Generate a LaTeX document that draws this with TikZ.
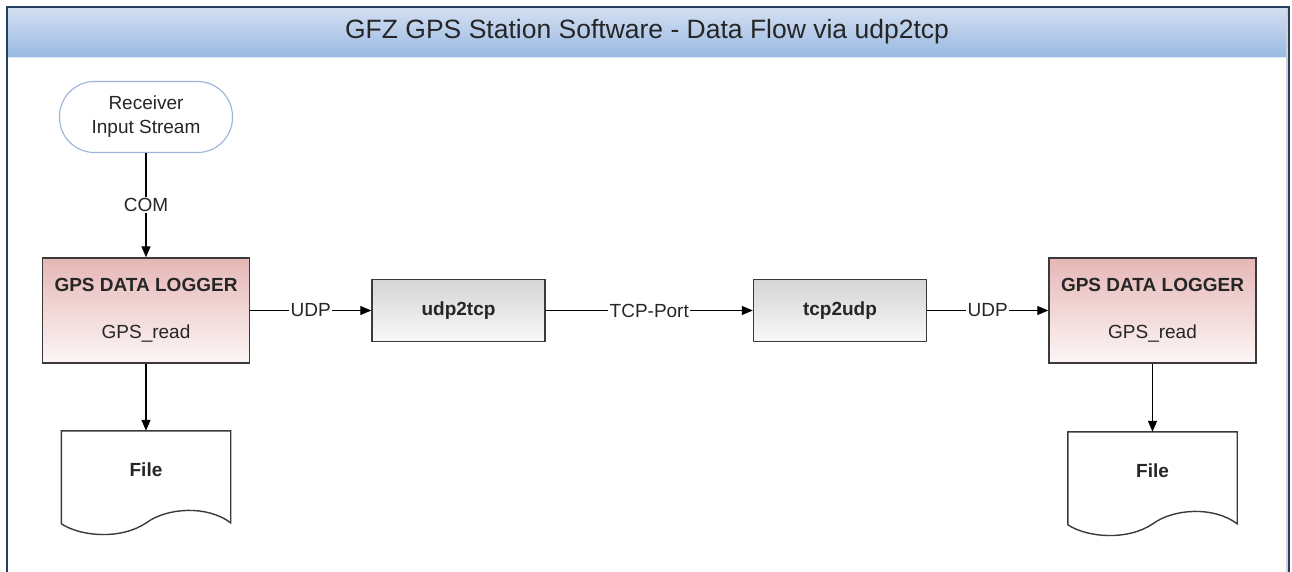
\documentclass[tikz,border=0pt]{standalone}
\usepackage{fontspec}
\setmainfont{Liberation Sans}
\usetikzlibrary{arrows.meta,calc}
\definecolor{frameblue}{HTML}{243F60}
\definecolor{bandtop}{HTML}{D3DFF2}
\definecolor{bandbot}{HTML}{99B9E2}
\definecolor{logtop}{HTML}{E5B7B6}
\definecolor{logbot}{HTML}{FDF6F6}
\definecolor{proctop}{HTML}{D5D5D5}
\definecolor{procbot}{HTML}{F8F8F8}
\definecolor{recborder}{HTML}{9AB4D8}
\definecolor{txt}{HTML}{262626}
\definecolor{boxline}{HTML}{3A3A3A}
\tikzset{
  every node/.style={text=txt},
  lbl/.style={font=\fontsize{19}{22}\selectfont, fill=white, inner sep=1.5pt},
  logger/.style={draw=boxline, line width=1.4pt, top color=logtop, bottom color=logbot,
    minimum width=207pt, minimum height=105pt, align=center, inner sep=0pt,
    font=\fontsize{19}{22}\selectfont},
  procbox/.style={draw=boxline, line width=1.4pt, top color=proctop, bottom color=procbot,
    minimum width=173pt, minimum height=62pt, inner sep=0pt,
    font=\fontsize{19}{22}\selectfont\bfseries},
  recv/.style={draw=recborder, line width=1.1pt, fill=white, rounded corners=35pt,
    minimum width=173pt, minimum height=71pt, align=center, inner sep=0pt,
    font=\fontsize{19}{24}\selectfont},
  filetxt/.style={minimum width=169pt, minimum height=78pt, inner sep=0pt,
    font=\fontsize{19}{22}\selectfont\bfseries},
  docline/.style={draw=boxline, line width=1.4pt, line join=miter},
  conn/.style={draw=black, line width=1.3pt, -{Triangle[length=11pt,width=9pt]}},
}
\begin{document}
\begin{tikzpicture}[x=1pt,y=-1pt]
\useasboundingbox (0,0) rectangle (1292,572);
\fill[white] (0,0) rectangle (1292,572);
% title band
\shade[top color=bandtop, bottom color=bandbot] (8,8) rectangle (1287,57);
\draw[color=bandtop!70!white, line width=1pt] (8,57.5) -- (1287,57.5);
\draw[gray!35, line width=1.2pt] (1287,8) -- (1287,580);
\draw[frameblue, line width=2.2pt] (7,7) rectangle (1289,590);
\node[font=\fontsize{26.5}{30}\selectfont] (title) at (647,32) {GFZ GPS Station Software - Data Flow via udp2tcp};

% nodes
\node[recv] (recv) at (146,117) {Receiver\\Input Stream};
\node[logger] (log1) at (146,310.5) {\textbf{GPS DATA LOGGER}\\[25pt]GPS\_read};
\node[procbox] (u2t) at (458.5,310.5) {udp2tcp};
\node[procbox] (t2u) at (840,310.5) {tcp2udp};
\node[logger] (log2) at (1152.5,310.5) {\textbf{GPS DATA LOGGER}\\[25pt]GPS\_read};
\node[filetxt] (file1) at (146,470) {File};
\node[filetxt] (file2) at (1152.5,471) {File};

% document shapes
\foreach \f in {file1,file2}{
  \draw[docline] ($(\f.north west)+(0,93)$) -- (\f.north west) -- (\f.north east) -- ($(\f.north east)+(0,92)$)
    .. controls ($(\f.north east)+(-24,74)$) and ($(\f.north east)+(-64,77)$) .. ($(\f.north west)+(85,92)$)
    .. controls ($(\f.north west)+(60,109)$) and ($(\f.north west)+(20,106)$) .. ($(\f.north west)+(0,93)$);
}

% connectors
\draw[conn] (recv) -- node[lbl] {COM} (log1);
\draw[conn] (log1) -- node[lbl] {UDP} (u2t);
\draw[conn] (u2t) -- node[lbl] {TCP-Port} (t2u);
\draw[conn] (t2u) -- node[lbl] {UDP} (log2);
\draw[conn] (log1) -- (file1);
\draw[conn] (log2) -- (file2);
\end{tikzpicture}
\end{document}
